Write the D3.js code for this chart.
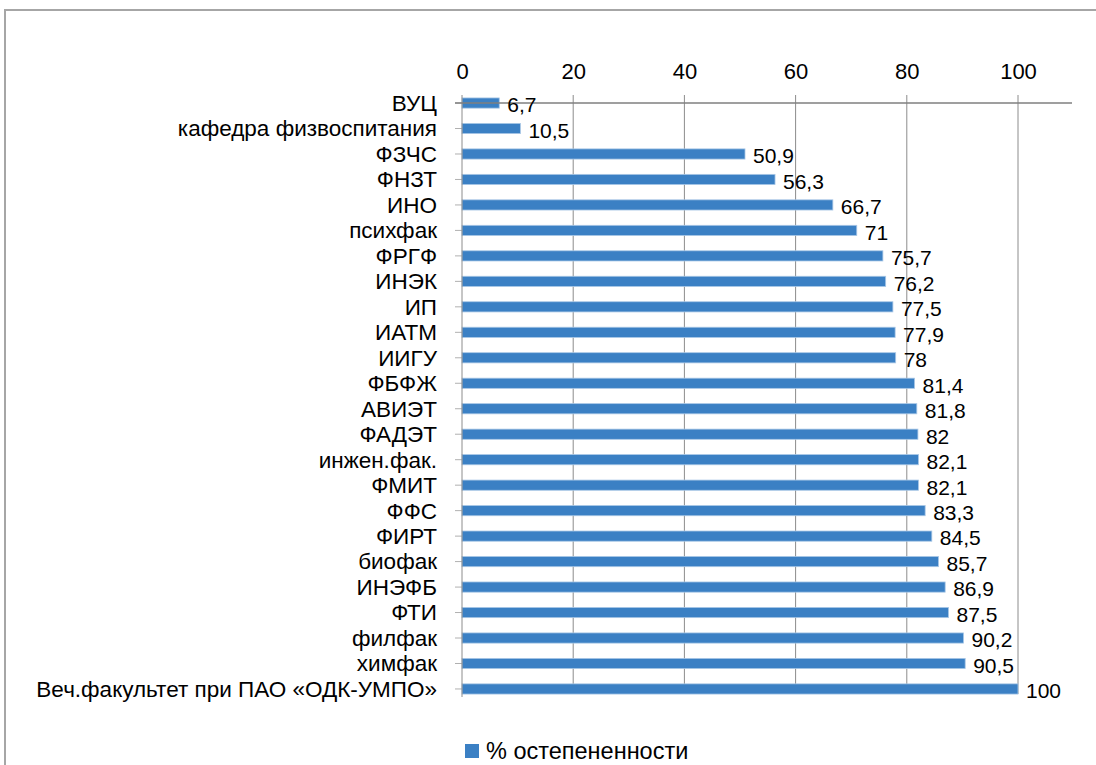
<!DOCTYPE html>
<html>
<head>
<meta charset="utf-8">
<script src="https://cdn.jsdelivr.net/npm/d3@7"></script>
<style>
  body { margin: 0; background: #fff; }
  text { font-family: "Liberation Sans", sans-serif; fill: #000; }
</style>
</head>
<body>
<div id="chart"></div>
<script>
// faculties, top to bottom
let faculties = ["ВУЦ", "кафедра физвоспитания", "ФЗЧС", "ФНЗТ", "ИНО", "психфак", "ФРГФ",
    "ИНЭК", "ИП", "ИАТМ", "ИИГУ", "ФБФЖ", "АВИЭТ", "ФАДЭТ", "инжен.фак.", "ФМИТ", "ФФС",
    "ФИРТ", "биофак", "ИНЭФБ", "ФТИ", "филфак", "химфак", "Веч.факультет при ПАО «ОДК-УМПО»"];
let percents = [6.7, 10.5, 50.9, 56.3, 66.7, 71, 75.7, 76.2, 77.5, 77.9, 78, 81.4, 81.8, 82,
    82.1, 82.1, 83.3, 84.5, 85.7, 86.9, 87.5, 90.2, 90.5, 100];
let xTicks = [0, 20, 40, 60, 80, 100];
let seriesName = "% остепененности";

let svgWidth = 1096;
let svgHeight = 765;

let svg = d3.select("#chart")
    .append("svg")
    .attr("width", svgWidth)
    .attr("height", svgHeight);

// outer chart frame (runs off the right and bottom)
svg.append("rect")
    .attr("x", 5).attr("y", 10)
    .attr("width", 1200).attr("height", 900)
    .attr("fill", "none")
    .attr("stroke", "#a6a6a6")
    .attr("stroke-width", 2);

let obs = faculties.map((f, i) => ({ name: f, value: percents[i] }));

// scales
let xScale = d3.scaleLinear()
    .domain([0, 100])
    .range([462, 1018]);

let yScale = d3.scaleBand()
    .domain(faculties)
    .range([90.3, 701.7])
    .paddingInner(0.6)
    .paddingOuter(0.3);

let yMid = d => yScale(d) + yScale.bandwidth() / 2;

// gridlines
svg.append("g")
    .selectAll("line")
    .data(xTicks.slice(1))
    .enter()
    .append("line")
    .attr("x1", d => xScale(d)).attr("x2", d => xScale(d))
    .attr("y1", 95).attr("y2", 694)
    .attr("stroke", "#8c8c8c")
    .attr("stroke-width", 1);

// bars
svg.append("g")
    .selectAll("rect")
    .data(obs)
    .enter()
    .append("rect")
    .attr("x", xScale(0))
    .attr("y", d => yScale(d.name))
    .attr("width", d => xScale(d.value) - xScale(0))
    .attr("height", yScale.bandwidth())
    .attr("fill", "#3b80c4")
    .attr("stroke", "#a9c7e6")
    .attr("stroke-width", 0.8);

// category axis on the left
let leftAxis = d3.axisLeft(yScale).tickSize(7).tickPadding(18);
let gy = svg.append("g")
    .attr("transform", `translate(${xScale(0)}, 0)`)
    .call(leftAxis);
gy.select(".domain").remove();
gy.selectAll(".tick line").attr("stroke", "#b0b0b0");
gy.selectAll(".tick text")
    .attr("font-family", "Liberation Sans")
    .attr("font-size", 22.5)
    .attr("fill", "#000")
    .attr("dy", "0.35em");

svg.append("line")
    .attr("x1", xScale(0)).attr("x2", xScale(0))
    .attr("y1", 95).attr("y2", 697)
    .attr("stroke", "#8c8c8c");

// value axis on top
let topAxis = d3.axisTop(xScale).tickValues(xTicks).tickSize(0).tickPadding(24);
let gx = svg.append("g")
    .attr("transform", `translate(0, ${yMid(faculties[0])})`)
    .call(topAxis);
gx.select(".domain").remove();
gx.selectAll(".tick text")
    .attr("font-family", "Liberation Sans")
    .attr("font-size", 22)
    .attr("fill", "#000");

svg.append("line")
    .attr("x1", 455).attr("x2", 1072)
    .attr("y1", yMid(faculties[0])).attr("y2", yMid(faculties[0]))
    .attr("stroke", "#7f7f7f")
    .attr("stroke-width", 1.5);

// data labels
svg.append("g")
    .selectAll("text")
    .data(obs)
    .enter()
    .append("text")
    .attr("x", d => xScale(d.value) + 8)
    .attr("y", d => yMid(d.name) + 2)
    .attr("dy", "0.35em")
    .attr("font-size", 21)
    .text(d => String(d.value).replace(".", ","));

// legend
let legend = svg.append("g").attr("transform", "translate(465, 751)");
legend.append("rect")
    .attr("x", 0).attr("y", -7)
    .attr("width", 14).attr("height", 14)
    .attr("fill", "#3b80c4");
legend.append("text")
    .attr("x", 21)
    .attr("dy", "0.35em")
    .attr("font-size", 23.5)
    .text(seriesName);
</script>
</body>
</html>
